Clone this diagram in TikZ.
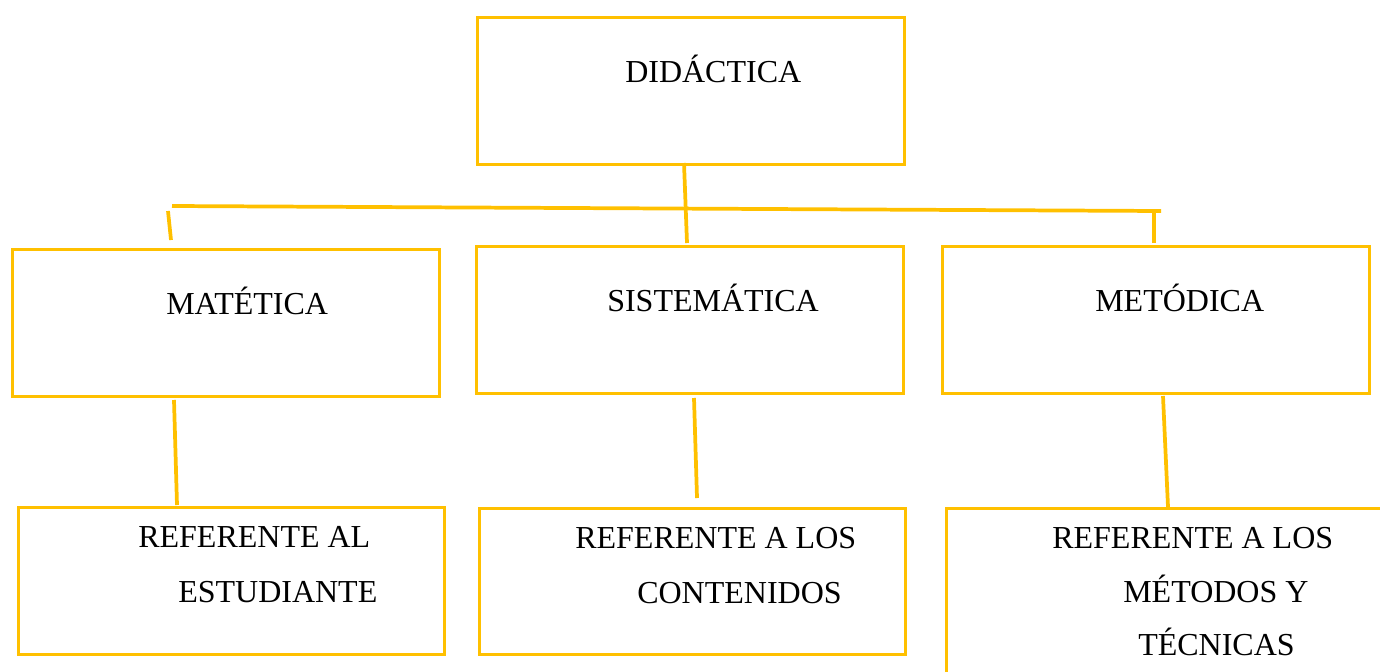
\documentclass[tikz,border=0pt]{standalone}
\usepackage{fontspec}
\setmainfont{Liberation Serif}
\definecolor{boxgold}{HTML}{FFC000}
\begin{document}
\begin{tikzpicture}[x=0.75pt,y=-0.75pt,
  box/.style={draw=boxgold, line width=2.8pt, fill=none, rectangle, inner sep=0pt, anchor=north west},
  lbl/.style={anchor=base west, inner sep=0pt, font=\fontsize{24}{28}\selectfont, text=black},
  link/.style={draw=boxgold, line width=2.8pt}]
\useasboundingbox (0,0) rectangle (1380,671);
\clip (0,0) rectangle (1380,671);
% boxes
\node[box, minimum width=427*0.75pt, minimum height=147*0.75pt] (top) at (475.5,15.5) {};
\node[box, minimum width=427*0.75pt, minimum height=147*0.75pt] (mat) at (10.5,247.5) {};
\node[box, minimum width=427*0.75pt, minimum height=147*0.75pt] (sis) at (474.5,244.5) {};
\node[box, minimum width=427*0.75pt, minimum height=147*0.75pt] (met) at (940.5,244.5) {};
\node[box, minimum width=426*0.75pt, minimum height=147*0.75pt] (est) at (16.5,505.5) {};
\node[box, minimum width=426*0.75pt, minimum height=146*0.75pt] (con) at (477.5,506.5) {};
\node[box, minimum width=480*0.75pt, minimum height=200*0.75pt] (tec) at (944.5,506.5) {};
% labels
\node[lbl] (tDid) at (625,82) {DIDÁCTICA};
\node[lbl] (tMat) at (166,314) {MATÉTICA};
\node[lbl] (tSis) at (607,311) {SISTEMÁTICA};
\node[lbl] (tMet) at (1095,311) {METÓDICA};
\node[lbl] (tEst1) at (138,547) {REFERENTE AL};
\node[lbl] (tEst2) at (178,602) {ESTUDIANTE};
\node[lbl] (tCon1) at (575,548) {REFERENTE A LOS};
\node[lbl] (tCon2) at (637,603) {CONTENIDOS};
\node[lbl] (tTec1) at (1052,548) {REFERENTE A LOS};
\node[lbl] (tTec2) at (1123,602) {MÉTODOS Y};
\node[lbl] (tTec3) at (1138,655) {TÉCNICAS};
% connector coordinates
\coordinate (a1) at (684,163);
\coordinate (a2) at (687,243);
\coordinate (h1) at (172,206);
\coordinate (h2) at (1161,211);
\coordinate (l1) at (168,211);
\coordinate (l2) at (171,240);
\coordinate (r1) at (1154,212);
\coordinate (r2) at (1154,243);
\coordinate (m1) at (174,400);
\coordinate (m2) at (177,505);
\coordinate (s1) at (694,398);
\coordinate (s2) at (697,498);
\coordinate (e1) at (1163,396);
\coordinate (e2) at (1168,507);
\draw[link] (a1) -- (a2);
\draw[link] (h1) -- (h2);
\draw[link] (l1) -- (l2);
\draw[link] (r1) -- (r2);
\draw[link] (m1) -- (m2);
\draw[link] (s1) -- (s2);
\draw[link] (e1) -- (e2);
\end{tikzpicture}
\end{document}
